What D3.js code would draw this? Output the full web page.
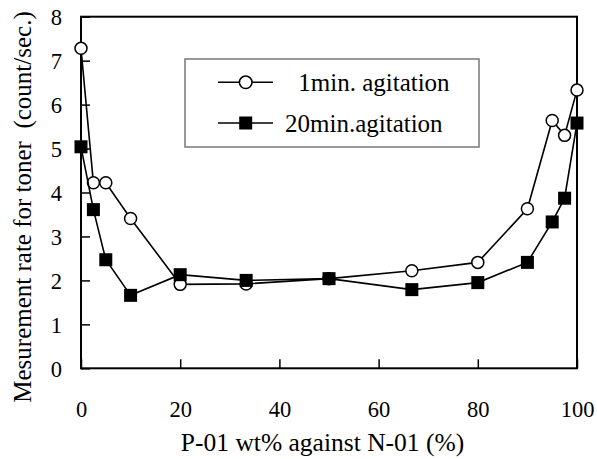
<!DOCTYPE html>
<html>
<head>
<meta charset="utf-8">
<script src="https://cdn.jsdelivr.net/npm/d3@7"></script>
<style>
  body { margin: 0; background: #fff; }
  text { font-family: "Liberation Serif", "Times New Roman", serif; }
</style>
</head>
<body>
<div id="chart"></div>
<script>
// data
const ratio = [0, 2.5, 5, 10, 20, 33.3, 50, 66.7, 80, 90, 95, 97.5, 100];
const oneMin = [7.28, 4.22, 4.22, 3.41, 1.91, 1.92, 2.04, 2.22, 2.41, 3.63, 5.64, 5.30, 6.33];
const twentyMin = [5.04, 3.61, 2.47, 1.66, 2.13, 2.0, 2.04, 1.79, 1.95, 2.41, 3.33, 3.87, 5.58];
const seriesNames = [" 1min. agitation", "20min.agitation"];
const xTicks = [0, 20, 40, 60, 80, 100];
const yTicks = [0, 1, 2, 3, 4, 5, 6, 7, 8];

const width = 597, height = 459;
const margin = {top: 16.7, right: 20, bottom: 90.7, left: 81};
const w = width - margin.left - margin.right;
const h = height - margin.top - margin.bottom;

const svg = d3.select("#chart").append("svg")
  .attr("width", width)
  .attr("height", height);

const g = svg.append("g")
  .attr("transform", `translate(${margin.left},${margin.top})`);

const x = d3.scaleLinear().domain([0, 100]).range([0, w]);
const y = d3.scaleLinear().domain([0, 8]).range([h, 0]);

// axes, ticks pointing inward
const xAxis = g.append("g")
  .attr("transform", `translate(0,${h})`)
  .call(d3.axisBottom(x).tickValues(xTicks).tickSize(-9).tickPadding(32.5));
const yAxis = g.append("g")
  .call(d3.axisLeft(y).tickValues(yTicks).tickSize(-9).tickPadding(19));

[xAxis, yAxis].forEach(a => {
  a.select(".domain").remove();
  a.selectAll("line").attr("stroke", "#000").attr("stroke-width", 1.5);
  a.selectAll("text").attr("font-size", 22.5).attr("fill", "#000");
});
yAxis.selectAll("text").attr("dy", "0.35em");

// frame
g.append("rect")
  .attr("width", w).attr("height", h)
  .attr("fill", "none")
  .attr("stroke", "#000")
  .attr("stroke-width", 2);

// titles
svg.append("text")
  .attr("x", 322.5).attr("y", 451)
  .attr("text-anchor", "middle")
  .attr("font-size", 25.5)
  .text("P-01 wt% against N-01 (%)");

svg.append("text")
  .attr("transform", "translate(31,207) rotate(-90)")
  .attr("text-anchor", "middle")
  .attr("font-size", 25)
  .style("white-space", "pre")
  .text("Mesurement rate for toner  (count/sec.)");

const line = d3.line()
  .x((d, i) => x(ratio[i]))
  .y(d => y(d));

// 1 min : open circles
g.append("path")
  .datum(oneMin)
  .attr("fill", "none").attr("stroke", "#000").attr("stroke-width", 1.6)
  .attr("d", line);
g.selectAll(".c1").data(oneMin).join("circle")
  .attr("class", "c1")
  .attr("cx", (d, i) => x(ratio[i]))
  .attr("cy", d => y(d))
  .attr("r", 6)
  .attr("fill", "#fff").attr("stroke", "#000").attr("stroke-width", 1.5);

// 20 min : filled squares
g.append("path")
  .datum(twentyMin)
  .attr("fill", "none").attr("stroke", "#000").attr("stroke-width", 1.6)
  .attr("d", line);
g.selectAll(".s2").data(twentyMin).join("rect")
  .attr("class", "s2")
  .attr("x", (d, i) => x(ratio[i]) - 6.5)
  .attr("y", d => y(d) - 6.5)
  .attr("width", 13).attr("height", 13)
  .attr("fill", "#000");

// legend
const legend = svg.append("g");
legend.append("rect")
  .attr("x", 185).attr("y", 59).attr("width", 294).attr("height", 88)
  .attr("fill", "#fff").attr("stroke", "#777").attr("stroke-width", 1.5);

const rows = [82.3, 123];
const textX = [292, 285];
rows.forEach((ry, i) => {
  legend.append("line")
    .attr("x1", 218).attr("x2", 273).attr("y1", ry).attr("y2", ry)
    .attr("stroke", "#000").attr("stroke-width", 1.6);
  if (i === 0) {
    legend.append("circle").attr("cx", 245.7).attr("cy", ry).attr("r", 6.3)
      .attr("fill", "#fff").attr("stroke", "#000").attr("stroke-width", 1.5);
  } else {
    legend.append("rect").attr("x", 239.2).attr("y", ry - 6.5)
      .attr("width", 13).attr("height", 13).attr("fill", "#000");
  }
  legend.append("text")
    .attr("x", textX[i]).attr("y", ry)
    .attr("dy", "0.35em")
    .attr("font-size", 25)
    .style("white-space", "pre")
    .text(seriesNames[i]);
});
</script>
</body>
</html>
